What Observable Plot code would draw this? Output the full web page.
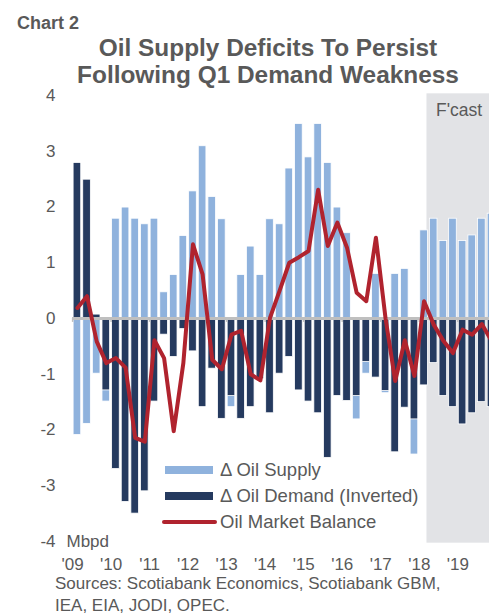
<!DOCTYPE html>
<html><head><meta charset="utf-8">
<script src="https://cdn.jsdelivr.net/npm/d3@7"></script>
<script src="https://cdn.jsdelivr.net/npm/@observablehq/plot@0.6"></script>
<style>
html,body{margin:0;padding:0;background:#fff;overflow:hidden;}
#wrap{position:relative;width:489px;height:614px;overflow:hidden;font-family:"Liberation Sans",Arial,sans-serif;color:#595959;}
#head{position:relative;height:80px;z-index:2;}
#chartno{position:absolute;left:17px;top:12px;font-size:18px;line-height:22px;font-weight:bold;}
#title{position:absolute;left:47px;width:442px;top:34px;text-align:center;font-size:24.4px;line-height:27.3px;font-weight:bold;white-space:nowrap;}
#chart{position:relative;height:495px;z-index:1;}
#src{position:absolute;left:55px;top:573px;font-size:17px;line-height:21.5px;white-space:nowrap;z-index:3;}
#legend{position:absolute;left:0;top:0;font-size:18.5px;z-index:3;}
.row{position:absolute;left:0;height:26px;white-space:nowrap;}
.sw{position:absolute;}
.lt{position:absolute;left:220px;top:0;line-height:26px;}
</style></head>
<body>
<div id="wrap">
  <div id="head">
    <div id="chartno">Chart 2</div>
    <div id="title">Oil Supply Deficits To Persist<br>Following Q1 Demand Weakness</div>
  </div>
  <div id="chart"></div>
  <div id="legend"></div>
  <div id="src">Sources: Scotiabank Economics, Scotiabank GBM,<br>IEA, EIA, JODI, OPEC.</div>
</div>
<script>
// Quarterly data, 2009 Q1 .. 2019 Q4 (Mbpd)
const yearLabels = ["'09","'10","'11","'12","'13","'14","'15","'16","'17","'18","'19"];
const supply = [
 -2.09,-1.89,-0.99,-1.49,
  1.79, 1.99, 1.79, 1.69,
  1.79, 0.47, 0.78, 1.48,
  2.28, 3.09, 2.18, 1.78,
 -1.59, 0.78, 1.29, 0.78,
  1.78, 1.69, 2.69, 3.49,
  2.89, 3.49, 2.79, 1.99,
  1.53,-1.81,-0.99, 0.80,
 -1.34, 0.80, 0.89,-2.44,
  1.58, 1.79, 1.39, 1.79,
  1.39, 1.49, 1.79, 1.88];
const demandInverted = [
  2.79, 2.49, 0.07,-1.29,
 -2.70,-3.29,-3.50,-3.10,
 -1.49,-0.29,-0.69,-0.19,
 -0.59,-1.59,-0.90,-1.80,
 -1.39,-1.80,-1.59,-1.09,
 -1.70,-0.99,-0.69,-1.29,
 -1.49,-1.70,-2.50,-1.39,
 -1.48,-1.39,-0.78,-1.06,
 -1.30,-2.40,-1.60,-1.81,
 -1.20,-0.80,-1.39,-1.59,
 -1.90,-1.70,-1.50,-1.59];
const balance = [
  0.19, 0.40,-0.41,-0.80,
 -0.71,-0.88,-2.14,-2.21,
 -0.39,-0.71,-2.02,-0.80,
  1.33, 0.79,-0.74,-0.91,
 -0.29,-0.22,-1.00,-1.11,
  0.01, 0.50, 1.00, 1.10,
  1.21, 2.31, 1.30, 1.72,
  1.27, 0.46, 0.31, 1.45,
  0.00,-1.12,-0.39,-1.03,
  0.31,-0.11,-0.40,-0.62,
 -0.20,-0.29,-0.10,-0.40];
const yTicks = [-4,-3,-2,-1,0,1,2,3,4];
const forecastStart = 36.8;   // quarter index where forecast shading begins
const forecastLabel = "F'cast";
const unitLabel = "Mbpd";
const seriesNames = ["\u0394 Oil Supply","\u0394 Oil Demand (Inverted)","Oil Market Balance"];
const colors = {supply:"#8fb2dd", demand:"#253a5f", balance:"#b0232e", shade:"#e2e3e6", zero:"#bfbfbf"};

const data = supply.map((s,i)=>({i, supply:s, demand:demandInverted[i], balance:balance[i]}));
const yearTicks = yearLabels.map((_,k)=>k*4);
const nQ = supply.length;

const chart = Plot.plot({
  width: 489, height: 495,
  marginLeft: 72, marginRight: 0, marginTop: 15, marginBottom: 34,
  style: {fontFamily: '"Liberation Sans", Arial, sans-serif', fontSize: "17px", color: "#595959", background: "transparent"},
  x: {type: "linear", domain: [0, nQ], range: [72.1, 495.8]},
  y: {domain: [d3.min(yTicks), d3.max(yTicks)]},
  marks: [
    Plot.rect([{x1: forecastStart, x2: nQ, y1: d3.min(yTicks)-0.03, y2: d3.max(yTicks)+0.03}],
      {x1:"x1", x2:"x2", y1:"y1", y2:"y2", fill: colors.shade}),
    Plot.text([forecastLabel], {x: forecastStart, y: d3.max(yTicks), dx: 9, dy: 15, text: d=>d, textAnchor: "start", fontSize: 17.5, fill: "#595959"}),
    Plot.rectY(data, {x1: d=>d.i, x2: d=>d.i+1, y: "supply", fill: colors.supply, stroke: "white", strokeWidth: 0.8, insetLeft: 1, insetRight: 1}),
    Plot.rectY(data, {x1: d=>d.i, x2: d=>d.i+1, y: "demand", fill: colors.demand, stroke: "white", strokeWidth: 0.8, insetLeft: 1, insetRight: 1}),
    Plot.ruleY([0], {stroke: colors.zero, strokeWidth: 3}),
    Plot.ruleX(yearTicks, {x: d=>d, y1: 0, y2: -0.07, stroke: colors.zero, strokeWidth: 1.5}),
    Plot.line(data, {x: d=>d.i+0.5, y: "balance", stroke: colors.balance, strokeWidth: 4}),
    Plot.axisY({ticks: yTicks, tickFormat: d => String(d), tickSize: 0, tickPadding: 17, label: null, fontSize: 17}),
    Plot.text([{label: unitLabel, y: d3.min(yTicks)}], {frameAnchor: "left", y: "y", text: "label", dx: -6, textAnchor: "start", fontSize: 17, fill: "#595959"}),
    Plot.axisX({ticks: yearTicks, tickFormat: d => yearLabels[d/4], tickSize: 0, tickPadding: 16, label: null, fontSize: 17})
  ]
});
document.getElementById("chart").appendChild(chart);

// legend
const legend = document.getElementById("legend");
const rows = [
  {name: seriesNames[0], color: colors.supply, top: 457, kind: "bar"},
  {name: seriesNames[1], color: colors.demand, top: 483, kind: "bar"},
  {name: seriesNames[2], color: colors.balance, top: 509, kind: "line"}
];
rows.forEach(r => {
  const row = document.createElement("div");
  row.className = "row";
  row.style.top = r.top + "px";
  const sw = document.createElement("div");
  sw.className = "sw";
  if (r.kind === "bar") {
    sw.style.left = "165px"; sw.style.width = "48px"; sw.style.top = "9px"; sw.style.height = "8px";
  } else {
    sw.style.left = "162px"; sw.style.width = "55px"; sw.style.top = "11px"; sw.style.height = "4px"; sw.style.borderRadius = "2px";
  }
  sw.style.background = r.color;
  const t = document.createElement("div");
  t.className = "lt";
  t.textContent = r.name;
  row.appendChild(sw); row.appendChild(t);
  legend.appendChild(row);
});
</script>
</body></html>
